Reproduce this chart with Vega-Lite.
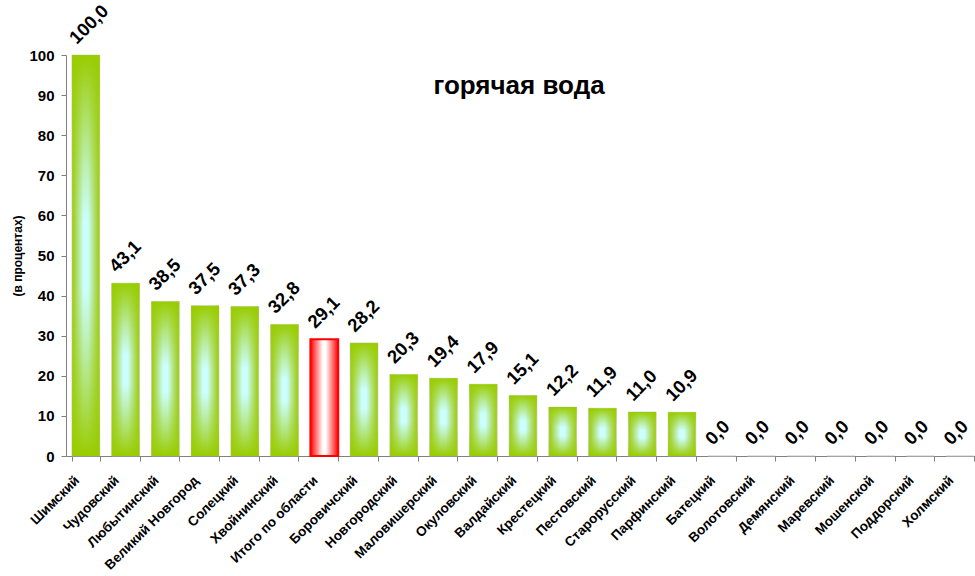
{
  "$schema": "https://vega.github.io/schema/vega-lite/v6.json",
  "width": 914,
  "height": 401,
  "autosize": {"type": "none"},
  "padding": {"left": 66, "top": 55, "right": 0, "bottom": 120},
  "background": "white",
  "config": {
    "view": {"stroke": null},
    "font": "Liberation Sans",
    "locale": {"number": {"decimal": ",", "thousands": " ", "grouping": [3], "currency": ["", ""]}}
  },
  "title": {
    "text": "горячая вода",
    "fontSize": 26,
    "fontWeight": "bold",
    "font": "Liberation Sans",
    "color": "black",
    "anchor": "middle",
    "baseline": "middle",
    "dx": -4,
    "dy": 114
  },
  "data": {
    "values": [
      {"name": "Шимский", "value": 100.0},
      {"name": "Чудовский", "value": 43.1},
      {"name": "Любытинский", "value": 38.5},
      {"name": "Великий Новгород", "value": 37.5},
      {"name": "Солецкий", "value": 37.3},
      {"name": "Хвойнинский", "value": 32.8},
      {"name": "Итого по области", "value": 29.1},
      {"name": "Боровичский", "value": 28.2},
      {"name": "Новгородский", "value": 20.3},
      {"name": "Маловишерский", "value": 19.4},
      {"name": "Окуловский", "value": 17.9},
      {"name": "Валдайский", "value": 15.1},
      {"name": "Крестецкий", "value": 12.2},
      {"name": "Пестовский", "value": 11.9},
      {"name": "Старорусский", "value": 11.0},
      {"name": "Парфинский", "value": 10.9},
      {"name": "Батецкий", "value": 0.0},
      {"name": "Волотовский", "value": 0.0},
      {"name": "Демянский", "value": 0.0},
      {"name": "Маревский", "value": 0.0},
      {"name": "Мошенской", "value": 0.0},
      {"name": "Поддорский", "value": 0.0},
      {"name": "Холмский", "value": 0.0}
    ]
  },
  "encoding": {
    "x": {
      "field": "name",
      "type": "nominal",
      "sort": null,
      "scale": {
        "domain": ["Шимский", "Чудовский", "Любытинский", "Великий Новгород", "Солецкий", "Хвойнинский", "Итого по области", "Боровичский", "Новгородский", "Маловишерский", "Окуловский", "Валдайский", "Крестецкий", "Пестовский", "Старорусский", "Парфинский", "Батецкий", "Волотовский", "Демянский", "Маревский", "Мошенской", "Поддорский", "Холмский"],
        "paddingInner": 0.3,
        "paddingOuter": 0.15
      },
      "axis": {
        "title": null,
        "labelAngle": -45,
        "labelAlign": "right",
        "labelBaseline": "middle",
        "labelFontSize": 13.5,
        "labelFontWeight": "bold",
        "labelColor": "black",
        "labelPadding": 17,
        "labelOffset": -9,
        "domainColor": "#808080",
        "tickColor": "#808080",
        "tickSize": 5,
        "tickBand": "extent",
        "labelLimit": 300
      }
    },
    "y": {
      "field": "value",
      "type": "quantitative",
      "scale": {"domain": [0, 100], "nice": false},
      "axis": {
        "title": "(в процентах)",
        "titleFontSize": 12,
        "titleFontWeight": "bold",
        "titleColor": "black",
        "titlePadding": 4,
        "values": [0, 10, 20, 30, 40, 50, 60, 70, 80, 90, 100],
        "labelFontSize": 15,
        "labelFontWeight": "bold",
        "labelColor": "black",
        "labelPadding": 7,
        "grid": false,
        "domainColor": "#808080",
        "tickColor": "#808080",
        "tickSize": 5
      }
    }
  },
  "layer": [
    {
      "transform": [{"filter": "datum.name !== 'Итого по области'"}],
      "mark": {
        "type": "bar",
        "stroke": "#c8c8c8",
        "strokeWidth": 0.6,
        "fill": {
          "gradient": "linear",
          "x1": 0, "y1": 0.5, "x2": 1, "y2": 0.5,
          "stops": [
            {"offset": 0, "color": "#99cc00"},
            {"offset": 0.1, "color": "#a6d43c"},
            {"offset": 0.42, "color": "#ccffff"},
            {"offset": 0.58, "color": "#ccffff"},
            {"offset": 0.9, "color": "#a6d43c"},
            {"offset": 1, "color": "#99cc00"}
          ]
        }
      }
    },
    {
      "transform": [{"filter": "datum.name !== 'Итого по области'"}],
      "mark": {
        "type": "bar",
        "fill": {
          "gradient": "linear",
          "x1": 0.5, "y1": 0, "x2": 0.5, "y2": 1,
          "stops": [
            {"offset": 0, "color": "rgba(153,204,0,1)"},
            {"offset": 0.42, "color": "rgba(160,210,40,0)"},
            {"offset": 0.58, "color": "rgba(160,210,40,0)"},
            {"offset": 1, "color": "rgba(153,204,0,1)"}
          ]
        }
      }
    },
    {
      "transform": [{"filter": "datum.name === 'Итого по области'"}],
      "mark": {
        "type": "bar",
        "stroke": "#ff0000",
        "strokeWidth": 2,
        "fill": {
          "gradient": "linear",
          "x1": 0, "y1": 0.5, "x2": 1, "y2": 0.5,
          "stops": [
            {"offset": 0, "color": "#ff0000"},
            {"offset": 0.45, "color": "#ffffff"},
            {"offset": 0.55, "color": "#ffffff"},
            {"offset": 1, "color": "#ff0000"}
          ]
        }
      }
    },
    {
      "mark": {
        "type": "text",
        "angle": -45,
        "align": "left",
        "baseline": "alphabetic",
        "xOffset": -9,
        "yOffset": -10,
        "fontSize": 18.5,
        "fontWeight": "bold",
        "font": "Liberation Sans",
        "color": "black"
      },
      "encoding": {
        "text": {"field": "value", "type": "quantitative", "format": ".1f"}
      }
    }
  ]
}
